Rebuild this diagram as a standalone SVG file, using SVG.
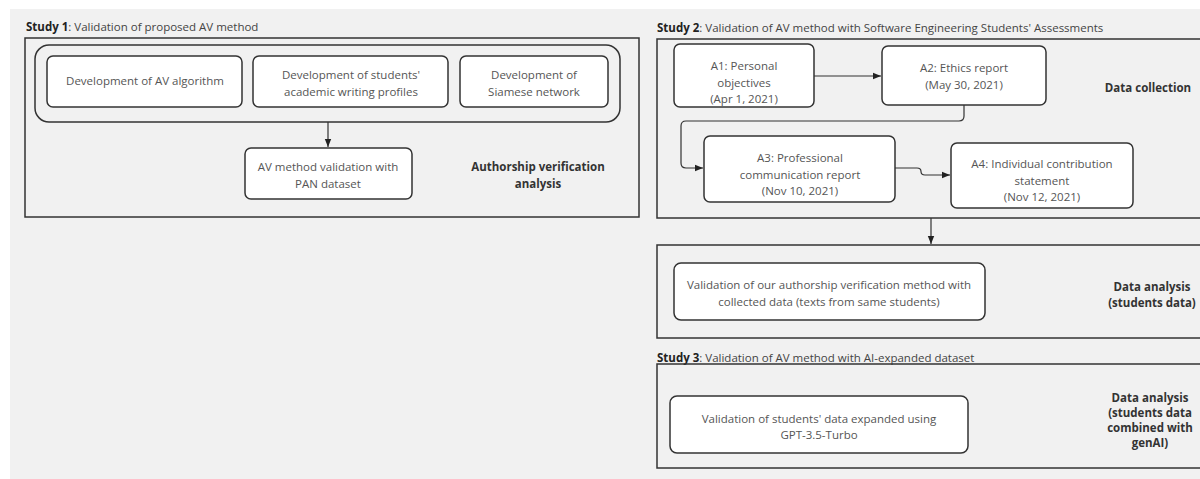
<svg xmlns="http://www.w3.org/2000/svg" width="1200" height="479" viewBox="0 0 1200 479">
<defs>
<marker id="ah" viewBox="0 0 10 10" refX="10" refY="5" markerWidth="8" markerHeight="8" markerUnits="userSpaceOnUse" orient="auto">
<path d="M0,1 L10,5 L0,9 z" fill="#222"/>
</marker>
<style>
.frame{fill:none;stroke:#333;stroke-width:1.5}
.box{fill:#fff;stroke:#333;stroke-width:1.5}
.t{font-family:"Open Sans","Noto Sans","Liberation Sans",sans-serif;font-size:11.5px;fill:#555;text-anchor:middle}
.lbl{font-family:"Open Sans","Noto Sans","Liberation Sans",sans-serif;font-size:11.5px;font-weight:bold;fill:#333;text-anchor:middle}
.ttl{font-family:"Open Sans","Noto Sans","Liberation Sans",sans-serif;font-size:11.5px;fill:#444}
.ttl tspan.b{font-weight:bold;fill:#222}
.c{fill:none;stroke:#333;stroke-width:1.2}
</style>
</defs>
<rect x="0" y="0" width="1200" height="479" fill="#fff"/>
<rect x="10" y="9" width="1190" height="470" fill="#f1f1f1"/>

<g id="study1">
<text class="ttl" x="26" y="31"><tspan class="b">Study 1</tspan>: Validation of proposed AV method</text>
<rect class="frame" x="25" y="38" width="614" height="179"/>
<rect class="frame" x="35" y="45" width="585" height="77" rx="14"/>
</g>
<g id="n-av-algorithm">
<rect class="box" x="47" y="56" width="195" height="51" rx="6"/>
<text class="t" x="145" y="85">Development of AV algorithm</text>
</g>
<g id="n-profiles">
<rect class="box" x="253" y="56" width="195" height="51" rx="6"/>
<text class="t" x="351" y="79">Development of students'</text>
<text class="t" x="351" y="96">academic writing profiles</text>
</g>
<g id="n-siamese">
<rect class="box" x="460" y="56" width="148" height="51" rx="6"/>
<text class="t" x="534" y="79">Development of</text>
<text class="t" x="534" y="96">Siamese network</text>
</g>
<g id="n-pan">
<rect class="box" x="245" y="148" width="167" height="51" rx="6"/>
<text class="t" x="328" y="171">AV method validation with</text>
<text class="t" x="328" y="188">PAN dataset</text>
</g>
<g id="l-av">
<text class="lbl" x="538" y="171">Authorship verification</text>
<text class="lbl" x="538" y="188">analysis</text>
</g>

<g id="study2">
<text class="ttl" x="657" y="32"><tspan class="b">Study 2</tspan>: Validation of AV method with Software Engineering Students' Assessments</text>
<rect class="frame" x="657" y="39" width="560" height="179"/>
<text class="lbl" x="1148" y="92">Data collection</text>
</g>
<g id="n-a1">
<rect class="box" x="674" y="44" width="140" height="63" rx="6"/>
<text class="t" x="744" y="70">A1: Personal</text>
<text class="t" x="744" y="87">objectives</text>
<text class="t" x="744" y="103">(Apr 1, 2021)</text>
</g>
<g id="n-a2">
<rect class="box" x="882" y="46" width="164" height="59" rx="6"/>
<text class="t" x="964" y="72">A2: Ethics report</text>
<text class="t" x="964" y="89">(May 30, 2021)</text>
</g>
<g id="n-a3">
<rect class="box" x="704" y="136" width="191" height="66" rx="6"/>
<text class="t" x="800" y="162">A3: Professional</text>
<text class="t" x="800" y="179">communication report</text>
<text class="t" x="800" y="195">(Nov 10, 2021)</text>
</g>
<g id="n-a4">
<rect class="box" x="951" y="143" width="182" height="65" rx="6"/>
<text class="t" x="1042" y="168">A4: Individual contribution</text>
<text class="t" x="1042" y="185">statement</text>
<text class="t" x="1042" y="201">(Nov 12, 2021)</text>
</g>

<g id="study2-analysis">
<rect class="frame" x="657" y="245" width="560" height="93"/>
<text class="lbl" x="1152" y="291">Data analysis</text>
<text class="lbl" x="1152" y="307">(students data)</text>
</g>
<g id="n-validation-students">
<rect class="box" x="674" y="263" width="311" height="57" rx="7"/>
<text class="t" x="829" y="289">Validation of our authorship verification method with</text>
<text class="t" x="829" y="306">collected data (texts from same students)</text>
</g>

<g id="study3">
<text class="ttl" x="657" y="362"><tspan class="b">Study 3</tspan>: Validation of AV method with AI-expanded dataset</text>
<rect class="frame" x="657" y="364" width="560" height="104"/>
<text class="lbl" x="1150" y="402">Data analysis</text>
<text class="lbl" x="1150" y="417">(students data</text>
<text class="lbl" x="1150" y="432">combined with</text>
<text class="lbl" x="1150" y="447">genAI)</text>
</g>
<g id="n-validation-genai">
<rect class="box" x="670" y="396" width="298" height="57" rx="7"/>
<text class="t" x="819" y="423">Validation of students' data expanded using</text>
<text class="t" x="819" y="439">GPT-3.5-Turbo</text>
</g>

<g id="connectors">
<path class="c" d="M328,122 V147" marker-end="url(#ah)"/>
<path class="c" d="M814,76 H881" marker-end="url(#ah)"/>
<path class="c" d="M964,105 V116 Q964,121 959,121 H686 Q681,121 681,126 V163 Q681,168 686,168 H703" marker-end="url(#ah)"/>
<path class="c" d="M895,168 H917 Q921,168 921,171.5 Q921,175 925,175 H950" marker-end="url(#ah)"/>
<path class="c" d="M931,218 V244" marker-end="url(#ah)"/>
</g>
</svg>
